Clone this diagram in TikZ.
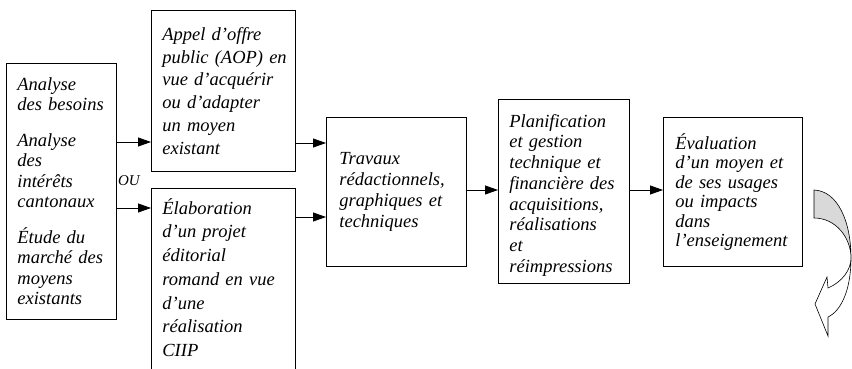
\documentclass[tikz,border=0pt]{standalone}
\usepackage{fontspec}
\setmainfont{Liberation Serif}
\usetikzlibrary{arrows.meta}

\begin{document}
\begin{tikzpicture}[x=1pt, y=-1pt, >={Triangle[length=13pt, width=9pt]}, line width=0.8pt,
    bloc/.style={draw, anchor=north west, align=left, inner xsep=0pt, inner ysep=0pt,
        font=\fontsize{18.5}{#1}\selectfont\itshape},
    fleche/.style={line width=0.6pt}]
				% 1. 画布范围
				\useasboundingbox (0,0) rectangle (852,369);
				\clip (0,0) rectangle (852,369);
				
				% 2. 方框
				\node[bloc=20.5, minimum width=110pt, minimum height=256pt, text width=88pt] (besoins) at (6,63)
				    {Analyse\\ des besoins\\[15pt] Analyse\\ des\\ intérêts\\ cantonaux\\[15pt] Étude du\\ marché des\\ moyens\\ existants};
				\node[bloc=22.7, minimum width=144pt, minimum height=161pt, text width=122pt] (aop) at (151,10)
				    {Appel d’offre\\ \mbox{public (AOP) en}\\ vue d’acquérir\\ ou d’adapter\\ un moyen\\ existant};
				\node[bloc=23.7, minimum width=144pt, inner ysep=10pt, text width=122pt] (projet) at (151,188)
				    {Élaboration\\ d’un projet\\ éditorial\\ romand en vue\\ d’une\\ réalisation\\ CIIP\rule[-40pt]{0pt}{40pt}};
				\node[bloc=20.7, minimum width=140pt, minimum height=149pt, text width=114pt] (travaux) at (326,117)
				    {Travaux\\ rédactionnels,\\ graphiques et\\ techniques};
				\node[bloc=20.7, minimum width=131pt, minimum height=184pt, text width=109pt] (planif) at (498,99)
				    {\rule{0pt}{20.5pt}Planification\\ et gestion\\ technique et\\ financière des\\ acquisitions,\\ réalisations\\ et\\ réimpressions};
				\node[bloc=19.5, minimum width=139pt, minimum height=149pt, text width=115pt] (eval) at (663,117)
				    {Évaluation\\ d’un moyen et\\ de ses usages\\ ou impacts\\ dans\\ l’enseignement};
				\node[font=\fontsize{15}{15}\selectfont\itshape] (ou) at (129,181) {OU};
				
				% 3. 连接箭头
				\coordinate (h1) at (0,142);
				\coordinate (h2) at (0,208);
				\coordinate (h3) at (0,143);
				\coordinate (h4) at (0,217);
				\coordinate (h5) at (0,190);
				\draw[->] (besoins.east |- h1) -- (aop.west |- h1);
				\draw[->] (besoins.east |- h2) -- (projet.west |- h2);
				\draw[->] (aop.east |- h3) -- (travaux.west |- h3);
				\draw[->] (projet.east |- h4) -- (travaux.west |- h4);
				\draw[->] (travaux.east |- h5) -- (planif.west |- h5);
				\draw[->] (planif.east |- h5) -- (eval.west |- h5);
				
				% 4. 回转弯箭头
				\coordinate (A) at (814,190);
				\coordinate (B) at (814,218);
				\coordinate (P) at (851,258);
				\filldraw[fleche, fill=gray!30] (A) .. controls (838,191) and (851,222) .. (P)
				    .. controls (851,238) and (836,218) .. (B) -- cycle;
				\draw[fleche, fill=white] (P) .. controls (851,290) and (841,311) .. (828,317)
				    -- (828,336) -- (815,304) -- (827,277) -- (828,288)
				    .. controls (842,282) and (851,270) .. (P);
			\end{tikzpicture}
\end{document}
